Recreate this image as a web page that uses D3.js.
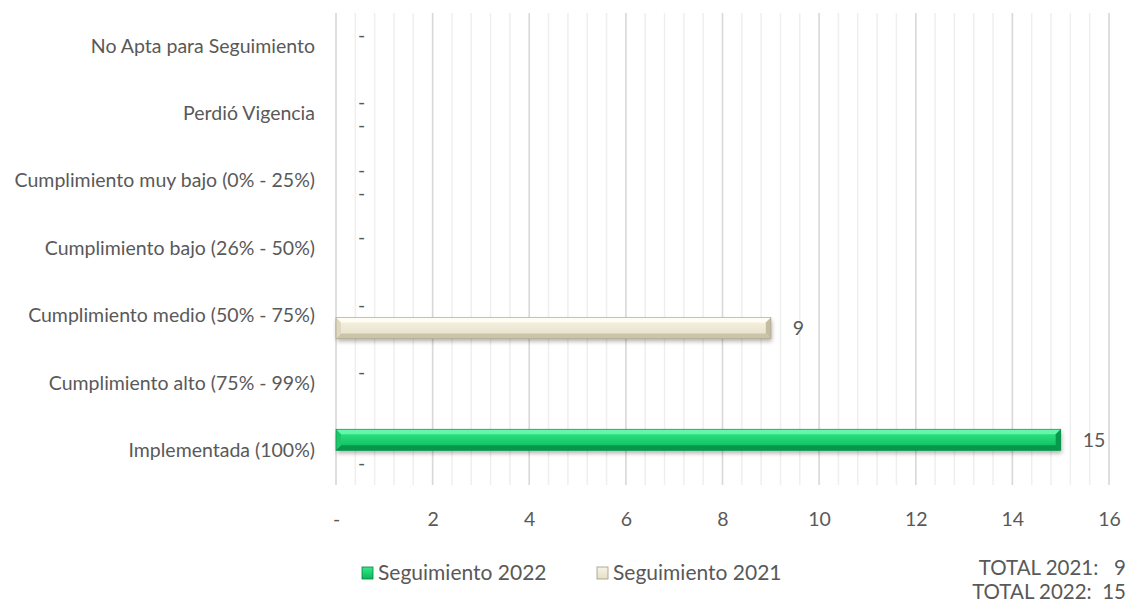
<!DOCTYPE html>
<html>
<head>
<meta charset="utf-8">
<script src="https://cdn.jsdelivr.net/npm/d3@7/dist/d3.min.js"></script>
<style>
  html, body { margin: 0; padding: 0; background: #ffffff; }
  svg { display: block; }
  text { font-family: "Lato", "Open Sans", sans-serif; fill: #595959; }
</style>
</head>
<body>
<svg id="chart" width="1132" height="604"></svg>
<script>
// Categories listed top to bottom
const categories = [
  "No Apta para Seguimiento",
  "Perdió Vigencia",
  "Cumplimiento muy bajo (0% - 25%)",
  "Cumplimiento bajo (26% - 50%)",
  "Cumplimiento medio (50% - 75%)",
  "Cumplimiento alto (75% - 99%)",
  "Implementada (100%)"
];
// null = no entry for that category
const seguimiento2022 = [0, 0, 0, 0, 0, 0, 15];
const seguimiento2021 = [null, 0, 0, null, 9, null, 0];
const seriesNames = ["Seguimiento 2022", "Seguimiento 2021"];
const xTicks = [0, 2, 4, 6, 8, 10, 12, 14, 16];

const svg = d3.select("#chart");
const plot = { left: 336, right: 1109, top: 13, bottom: 485 };
const fontSize = 19.5;

const x = d3.scaleLinear().domain([0, 16]).range([plot.left, plot.right]);
const y = d3.scaleBand().domain(categories).range([plot.top, plot.bottom]);
const ySeries = d3.scaleBand().domain(seriesNames).range([0, y.bandwidth()])
  .paddingInner(0.087).paddingOuter(0.51);

const fmt = v => v === 0 ? "-" : d3.format("d")(v);

// colour sets for the bevelled bars
const palettes = {
  "Seguimiento 2022": {
    top: "#63f7a9", faceA: "#35ea8b", faceB: "#08b85a", bottom: "#04984a",
    left: "#1cc86c", right: "#089a4c", edge: "#0c7f41"
  },
  "Seguimiento 2021": {
    top: "#fffdf3", faceA: "#f8f4e4", faceB: "#e5dfc8", bottom: "#cbc4aa",
    left: "#dfd9c2", right: "#c4bda2", edge: "#9f987f"
  }
};

const defs = svg.append("defs");
Object.entries(palettes).forEach(([name, p], i) => {
  const g = defs.append("linearGradient").attr("id", "face" + i)
    .attr("x1", 0).attr("y1", 0).attr("x2", 0).attr("y2", 1);
  g.append("stop").attr("offset", "0%").attr("stop-color", p.faceA);
  g.append("stop").attr("offset", "100%").attr("stop-color", p.faceB);
});
const shadow = defs.append("filter").attr("id", "shadow")
  .attr("x", "-5%").attr("y", "-50%").attr("width", "110%").attr("height", "200%");
shadow.append("feDropShadow").attr("dx", 1).attr("dy", 3).attr("stdDeviation", 2)
  .attr("flood-color", "#000").attr("flood-opacity", 0.3);

// vertical gridlines: minor every 0.4, major at each labelled tick
const minor = d3.range(0, 16.0001, 0.4).map(v => +v.toFixed(1));
svg.append("g").selectAll("line").data(minor).join("line")
  .attr("x1", d => x(d)).attr("x2", d => x(d))
  .attr("y1", plot.top).attr("y2", plot.bottom)
  .attr("stroke", "#efefef").attr("stroke-width", 1.5);
svg.append("g").selectAll("line").data(xTicks).join("line")
  .attr("x1", d => x(d)).attr("x2", d => x(d))
  .attr("y1", plot.top).attr("y2", plot.bottom)
  .attr("stroke", "#d9d9d9").attr("stroke-width", 1.5);

// x axis labels
const xAxis = d3.axisBottom(x).tickValues(xTicks).tickFormat(fmt).tickSize(0).tickPadding(0);
const gx = svg.append("g").attr("transform", `translate(0,${plot.bottom})`).call(xAxis);
gx.select(".domain").remove();
gx.selectAll("text").attr("font-size", fontSize).attr("font-family", null)
  .attr("fill", "#595959").attr("dy", null).attr("y", 41);

// category labels
const yAxis = d3.axisLeft(y).tickSize(0).tickPadding(0);
const gy = svg.append("g").attr("transform", `translate(${plot.left - 21},0)`).call(yAxis);
gy.select(".domain").remove();
gy.selectAll("text").attr("font-size", fontSize).attr("font-family", null)
  .attr("fill", "#595959").attr("dy", "0.3em");

// bars
const rows = [];
categories.forEach((c, i) => {
  rows.push({ cat: c, series: seriesNames[0], value: seguimiento2022[i] });
  rows.push({ cat: c, series: seriesNames[1], value: seguimiento2021[i] });
});
const present = rows.filter(d => d.value !== null);

const bevel = 5;
const barG = svg.append("g");
present.filter(d => d.value > 0).forEach(d => {
  const p = palettes[d.series];
  const idx = seriesNames.indexOf(d.series);
  const x0 = x(0), x1 = x(d.value);
  const y0 = y(d.cat) + ySeries(d.series), h = ySeries.bandwidth(), y1 = y0 + h;
  const g = barG.append("g");
  g.append("rect").attr("x", x0).attr("y", y0).attr("width", x1 - x0).attr("height", h)
    .attr("fill", p.faceB).attr("filter", "url(#shadow)");
  g.append("rect").attr("x", x0).attr("y", y0).attr("width", x1 - x0).attr("height", h)
    .attr("fill", `url(#face${idx})`);
  const poly = (pts, fill) => g.append("polygon")
    .attr("points", pts.map(q => q.join(",")).join(" ")).attr("fill", fill);
  poly([[x0, y0], [x1, y0], [x1 - bevel, y0 + bevel], [x0 + bevel, y0 + bevel]], p.top);
  poly([[x0 + bevel, y1 - bevel], [x1 - bevel, y1 - bevel], [x1, y1], [x0, y1]], p.bottom);
  poly([[x0, y0], [x0 + bevel, y0 + bevel], [x0 + bevel, y1 - bevel], [x0, y1]], p.left);
  poly([[x1, y0], [x1, y1], [x1 - bevel, y1 - bevel], [x1 - bevel, y0 + bevel]], p.right);
  g.append("rect").attr("x", x0).attr("y", y0).attr("width", x1 - x0).attr("height", h)
    .attr("fill", "none").attr("stroke", p.edge).attr("stroke-width", 0.8).attr("stroke-opacity", 0.7);
});

// value labels
svg.append("g").selectAll("text").data(present).join("text")
  .attr("x", d => x(d.value) + 22)
  .attr("y", d => y(d.cat) + ySeries(d.series) + ySeries.bandwidth() / 2)
  .attr("dy", "0.35em")
  .attr("font-size", fontSize)
  .text(d => fmt(d.value));

// legend
const legend = svg.append("g");
const legendX = [362, 597];
seriesNames.forEach((s, i) => {
  const p = palettes[s];
  legend.append("rect").attr("x", legendX[i]).attr("y", 567).attr("width", 11).attr("height", 12)
    .attr("fill", `url(#face${i})`).attr("stroke", p.edge).attr("stroke-width", 0.8);
  legend.append("text").attr("x", legendX[i] + 16).attr("y", 573).attr("dy", "0.35em")
    .attr("font-size", 21).text(s);
});

// totals
const totals = [
  ["TOTAL 2021:", d3.sum(seguimiento2021)],
  ["TOTAL 2022:", d3.sum(seguimiento2022)]
];
totals.forEach(([label, v], i) => {
  const t = svg.append("text").attr("x", 1126).attr("y", 568 + i * 24).attr("dy", "0.35em")
    .attr("text-anchor", "end").attr("font-size", 20.5).attr("xml:space", "preserve");
  t.text(`${label}  ${v < 10 ? " " : ""}${v}`);
});
</script>
</body>
</html>
